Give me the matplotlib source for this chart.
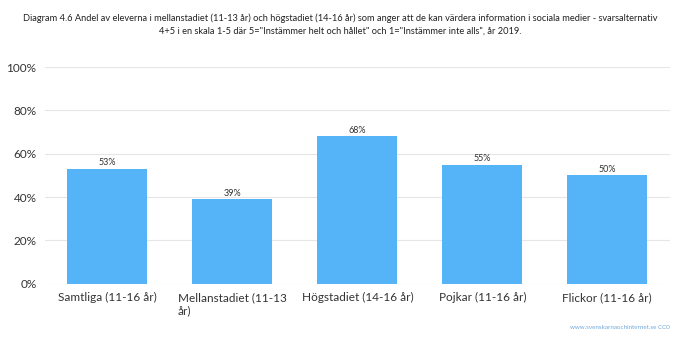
import matplotlib
matplotlib.use("Agg")
import matplotlib.pyplot as plt
from matplotlib.ticker import FuncFormatter

categories = ["Samtliga (11-16 år)", "Mellanstadiet (11-13\når)", "Högstadiet (14-16 år)",
              "Pojkar (11-16 år)", "Flickor (11-16 år)"]
values = [53, 39, 68, 55, 50]
yticks = [0, 20, 40, 60, 80, 100]

title = ("Diagram 4.6 Andel av eleverna i mellanstadiet (11-13 år) och högstadiet (14-16 år) som anger att de kan värdera information i sociala medier - svarsalternativ\n"
         "4+5 i en skala 1-5 där 5=\"Instämmer helt och hållet\" och 1=\"Instämmer inte alls\", år 2019.")
source = "www.svenskarnaochinternet.se CC0"

plt.rcParams["font.family"] = ["Lato", "DejaVu Sans"]

fig = plt.figure(figsize=(6.8, 3.42), dpi=100)
ax = fig.add_axes([0.066, 0.17, 0.919, 0.634])

x = range(len(categories))
bars = ax.bar(x, values, width=0.64, color="#55B3F8", zorder=2)
for xi, v in zip(x, values):
    ax.text(xi, v + 0.8, f"{v}%", ha="center", va="bottom", fontsize=6.5, color="#333333")

ax.set_xlim(-0.5, len(categories) - 0.5)
ax.set_ylim(0, 100)
ax.set_yticks(yticks)
ax.yaxis.set_major_formatter(FuncFormatter(lambda v, p: f"{int(v)}%"))
ax.set_xticks(list(x))
ax.set_xticklabels(categories, multialignment="left")
ax.tick_params(axis="both", length=0, labelsize=8.5, colors="#333333")
ax.tick_params(axis="x", pad=6)
ax.tick_params(axis="y", pad=6)
ax.grid(axis="y", color="#e6e6e6", linewidth=0.8, zorder=0)
for s in ax.spines.values():
    s.set_visible(False)

fig.text(0.5, 0.962, title, ha="center", va="top", fontsize=6.7, color="#222222", linespacing=1.55)
fig.text(0.985, 0.035, source, ha="right", va="bottom", fontsize=4.5, color="#6FA8DC")

fig.savefig("out.png", dpi=100, facecolor="white")
